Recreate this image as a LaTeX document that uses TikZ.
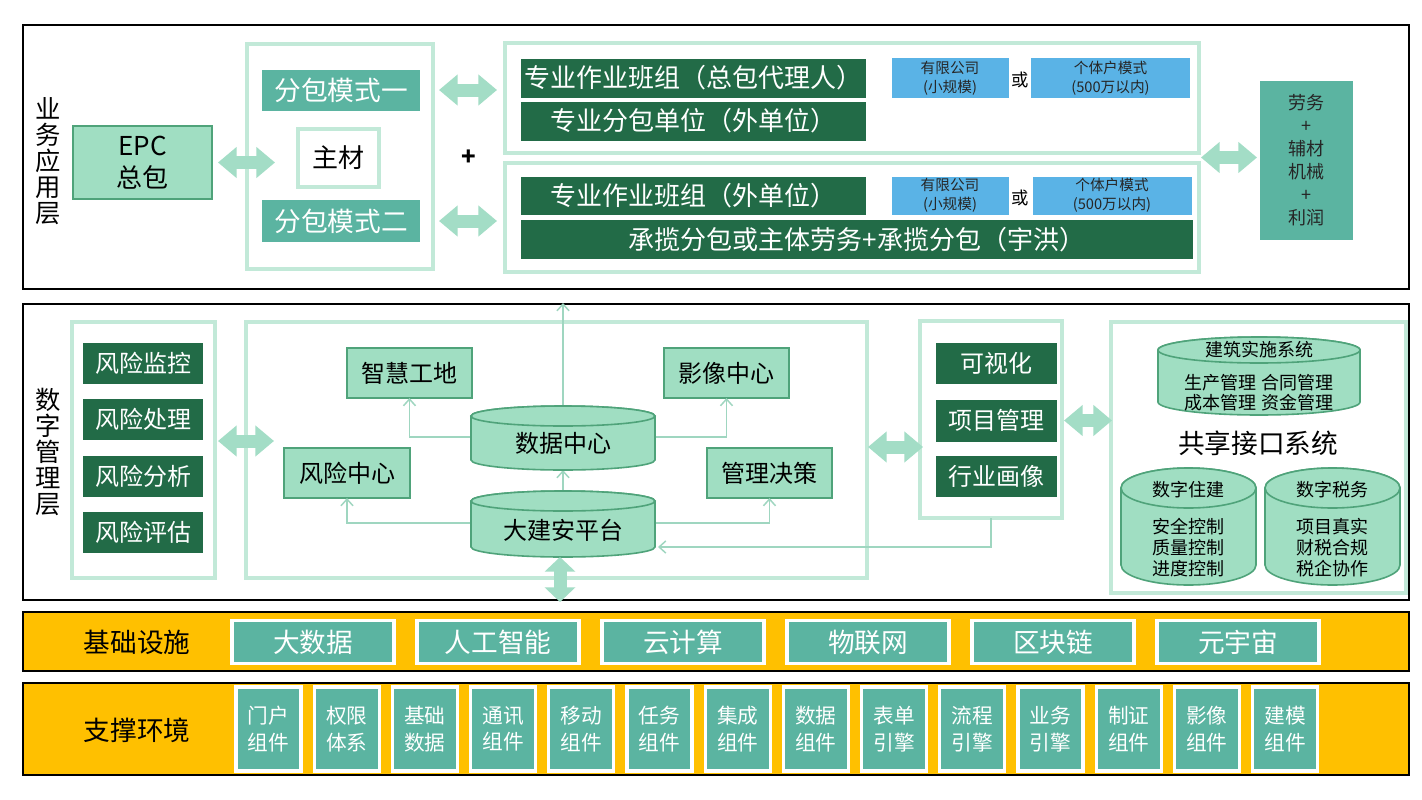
\documentclass[tikz,border=0pt]{standalone}
\usepackage{fontspec}
\setmainfont{Noto Sans CJK SC}
\usetikzlibrary{arrows.meta,calc}
\definecolor{goldc}{HTML}{FFC000}
\definecolor{tealc}{HTML}{5BB4A1}
\definecolor{darkg}{HTML}{226B47}
\definecolor{lightg}{HTML}{A0DEC2}
\definecolor{lightb}{HTML}{4FA37A}
\definecolor{mintline}{HTML}{C2E9D8}
\definecolor{arrowc}{HTML}{A3DDC6}
\definecolor{linec}{HTML}{9FD6C0}
\definecolor{bluec}{HTML}{5AB3E6}
\newcommand\fz[2]{\fontsize{#1pt}{#2pt}\selectfont}
\newcommand\cylshape[5]{%
  \pgfmathsetmacro\cylrx{0.75*(#3-#1)/2}%
  \pgfmathsetmacro\cylry{0.75*#5}%
  \pgfmathsetmacro\cylcx{(#1+#3)/2}%
  \filldraw[cylst] (#1,-#2-#5) -- (#1,-#4+#5) arc[start angle=180,end angle=360,x radius=\cylrx pt,y radius=\cylry pt] -- (#3,-#2-#5) arc[start angle=0,end angle=180,x radius=\cylrx pt,y radius=\cylry pt] -- cycle;
  \draw[cylst] (\cylcx,-#2-#5) ellipse[x radius=\cylrx pt,y radius=\cylry pt];
}
\begin{document}
\begin{tikzpicture}[x=0.75pt,y=0.75pt,
  bw/.style={minimum width=#1*0.75pt},
  bh/.style={minimum height=#1*0.75pt},
  base/.style={inner sep=0pt,outer sep=0pt,align=center},
  layer/.style={base,draw=black,line width=1.5pt},
  mint/.style={base,draw=mintline,line width=3pt},
  dark/.style={base,fill=darkg,text=white,font=\fz{19.5}{22}},
  riskbox/.style={base,fill=darkg,text=white,font=\fz{18}{20}},
  teal/.style={base,fill=tealc,text=white,font=\fz{20}{22}},
  light/.style={base,fill=lightg,draw=lightb,line width=1.2pt,font=\fz{18}{20}},
  bluebox/.style={base,fill=bluec,text=black!85,font=\fz{11}{14}},
  cylst/.style={fill=lightg,draw=lightb,line width=1.2pt},
  bigarrow/.style={draw=arrowc,line width=9.75pt,{Triangle[length=14pt,width=22.5pt]}-{Triangle[length=14pt,width=22.5pt]}},
  shortarrow/.style={draw=arrowc,line width=9.75pt,{Triangle[length=11pt,width=22.5pt]}-{Triangle[length=11pt,width=22.5pt]}},
  thin/.style={draw=linec,line width=1.1pt,-{Straight Barb[length=5pt,width=9pt]}},
  infra/.style={base,fill=tealc,draw=white,line width=2.5pt,text=white,font=\fz{20}{22}},
  comp/.style={base,fill=tealc,draw=white,line width=2.5pt,text=white,font=\fz{15.5}{20}},
  lab/.style={base,font=\fz{19}{19.5}},
  bandlab/.style={base,font=\fz{20}{22}}
]
\useasboundingbox (0,0) rectangle (1422,-800);
\fill[white] (0,0) rectangle (1422,-800);

% ===== Layer 1 =====
\node[layer,bw=1386,bh=264] (L1) at (716,-157) {};
\node[lab] (lab1) at (48,-161) {业\\务\\应\\用\\层};
\node[light,bw=139,bh=73,font=\fz{19.5}{24}] (epc) at (142.5,-162.5) {EPC\\总包};
\node[mint,bw=186,bh=225] (c1) at (340,-156.5) {};
\node[teal,bw=158,bh=41] (m1) at (341,-90) {分包模式一};
\node[base,fill=white,draw=mintline,line width=3pt,bw=81,bh=58,font=\fz{19.5}{20}] (zc) at (338.5,-157.5) {主材};
\node[teal,bw=158,bh=42] (m2) at (341,-221) {分包模式二};
\node[base,font=\bfseries\fz{18}{18}] (plus) at (469,-158) {+};
\node[mint,bw=694,bh=110] (ca) at (852,-98) {};
\node[mint,bw=694,bh=109] (cb) at (852,-217.5) {};
\node[dark,bw=345,bh=39] (g1) at (693.5,-78) {专业作业班组（总包代理人）};
\node[dark,bw=345,bh=39] (g2) at (693.5,-121) {专业分包单位（外单位）};
\node[bluebox,bw=117,bh=40] (b1) at (950,-78) {有限公司\\(小规模)};
\node[base,font=\fz{13}{13}] (or1) at (1020,-80) {或};
\node[bluebox,bw=159,bh=40] (b2) at (1110.5,-78) {个体户模式\\(500万以内)};
\node[dark,bw=345,bh=38] (g3) at (693.5,-195.5) {专业作业班组（外单位）};
\node[bluebox,bw=117,bh=38] (b3) at (950,-195.5) {有限公司\\(小规模)};
\node[base,font=\fz{13}{13}] (or2) at (1020,-198) {或};
\node[bluebox,bw=159,bh=38] (b4) at (1112,-195.5) {个体户模式\\(500万以内)};
\node[dark,bw=672,bh=39] (g4) at (857,-239.5) {承揽分包或主体劳务+承揽分包（宇洪）};
\node[base,fill=tealc,text=black!85,bw=93,bh=159,font=\fz{13.5}{17.25}] (rb) at (1306.5,-160.5) {劳务\\+\\辅材\\机械\\+\\利润};

\draw[bigarrow] ($(epc.east)+(6,0)$) -- ($(epc.east -| c1.west)+(28,0)$);
\draw[bigarrow] ($(m1 -| c1.east)+(6,0)$) -- ($(m1 -| ca.west)+(-8,0)$);
\draw[bigarrow] ($(m2 -| c1.east)+(6,0)$) -- ($(m2 -| cb.west)+(-8,0)$);
\draw[bigarrow] ($(rb.west -| ca.east)+(2,3)$) -- ($(rb.west)+(-3,3)$);

% ===== Layer 2 =====
\node[layer,bw=1386,bh=296] (L2) at (716,-452) {};
\node[lab] (lab2) at (48,-452) {数\\字\\管\\理\\层};
\node[mint,bw=143,bh=256] (rc) at (143.5,-450) {};
\node[riskbox,bw=120,bh=41] (r1) at (143,-363.5) {风险监控};
\node[riskbox,bw=120,bh=41] (r2) at (143,-419.5) {风险处理};
\node[riskbox,bw=120,bh=41] (r3) at (143,-476) {风险分析};
\node[riskbox,bw=120,bh=41] (r4) at (143,-532.5) {风险评估};
\node[mint,bw=621,bh=256] (cc) at (556.5,-450) {};
\node[light,bw=125,bh=50] (zh) at (409.5,-373) {智慧工地};
\node[light,bw=125,bh=50] (yx) at (726.5,-373) {影像中心};
\node[light,bw=126,bh=50] (fx) at (347,-473) {风险中心};
\node[light,bw=125,bh=50] (gl) at (769.5,-473) {管理决策};
\node[base,bw=184,bh=54] (dc) at (563,-443) {};
\node[base,bw=184,bh=56] (dbp) at (563,-529) {};
\node[mint,bw=142,bh=197] (vc) at (991,-419.5) {};
\node[riskbox,bw=121,bh=41] (v1) at (996,-363.5) {可视化};
\node[riskbox,bw=121,bh=42] (v2) at (996,-420.5) {项目管理};
\node[riskbox,bw=121,bh=41] (v3) at (996,-476.5) {行业画像};
\node[mint,bw=295,bh=271] (sc) at (1258.5,-457) {};

% thin connectors
\draw[thin] ($(dc.west)+(0,6)$) -| (zh.south);
\draw[thin] ($(dc.east)+(0,6)$) -| (yx.south);
\draw[thin] ($(dbp.west)+(0,6)$) -| (fx.south);
\draw[thin] ($(dbp.east)+(0,6)$) -| (gl.south);
\draw[thin] (dbp.north) -- (dc.south);
\draw[thin] (dc.north) -- ($(dc.north |- L2.north)+(0,1)$);
\draw[thin] (vc.south) |- ($(dbp.east)+(3,-18)$);

% cylinders
\cylshape{471}{406}{655}{470}{10}
\cylshape{471}{491}{655}{557}{10}
\cylshape{1158}{337}{1360}{415}{13}
\cylshape{1121}{468}{1256}{585}{20}
\cylshape{1265}{468}{1400}{585}{20}
\node[base,font=\fz{18}{20}] (dct) at (563,-443) {数据中心};
\node[base,font=\fz{18}{20}] (dbpt) at (563,-530) {大建安平台};
\node[base,bw=202,bh=52] (jz) at (1259,-389) {};
\node[base,font=\fz{13.5}{15}] (jzt) at (1259,-350) {建筑实施系统};
\node[base,font=\fz{13.5}{15}] (jzb) at (1259,-393) {生产管理 合同管理\\成本管理 资金管理};
\node[base,font=\fz{20}{22}] (gx) at (1258,-443) {共享接口系统};
\node[base,bw=135,bh=77] (sz) at (1188.5,-546) {};
\node[base,font=\fz{13.5}{15}] (szt) at (1188.5,-490) {数字住建};
\node[base,font=\fz{13.5}{15.75}] (szb) at (1188.5,-548) {安全控制\\质量控制\\进度控制};
\node[base,bw=135,bh=77] (sw) at (1332.5,-546) {};
\node[base,font=\fz{13.5}{15}] (swt) at (1332.5,-490) {数字税务};
\node[base,font=\fz{13.5}{15.75}] (swb) at (1332.5,-548) {项目真实\\财税合规\\税企协作};

% big arrows layer 2
\draw[bigarrow] ($(rc.east)+(3,9)$) -- ($(rc.east -| cc.west)+(28,9)$);
\draw[bigarrow] ($(cc.east)+(1,3)$) -- ($(cc.east -| vc.west)+(3,3)$);
\draw[bigarrow] ($(v2.west -| vc.east)+(2,0)$) -- ($(v2.west -| sc.west)+(1,0)$);
\draw[shortarrow] ($(dbp.south)+(-3,0)$) -- ($(dbp.south |- L2.south)+(-3,-2)$);

% ===== Layer 3 =====
\node[base,fill=goldc,draw=black,line width=1.2pt,bw=1386,bh=59] (L3) at (716,-641.5) {};
\node[bandlab] (lab3) at (137,-642) {基础设施};
\node[infra,bw=162,bh=43] (i1) at (313,-642) {大数据};
\node[infra,bw=162,bh=43] (i2) at (498,-642) {人工智能};
\node[infra,bw=162,bh=43] (i3) at (683,-642) {云计算};
\node[infra,bw=162,bh=43] (i4) at (868,-642) {物联网};
\node[infra,bw=162,bh=43] (i5) at (1053,-642) {区块链};
\node[infra,bw=162,bh=43] (i6) at (1238,-642) {元宇宙};

% ===== Layer 4 =====
\node[base,fill=goldc,draw=black,line width=1.2pt,bw=1386,bh=92] (L4) at (716,-729) {};
\node[bandlab] (lab4) at (137,-730) {支撑环境};
\foreach \i/\t in {0/{门户\\组件},1/{权限\\体系},2/{基础\\数据},3/{通讯\\组件},4/{移动\\组件},5/{任务\\组件},6/{集成\\组件},7/{数据\\组件},8/{表单\\引擎},9/{流程\\引擎},10/{业务\\引擎},11/{制证\\组件},12/{影像\\组件},13/{建模\\组件}}{
  \node[comp,bw=65,bh=84] (s\i) at (268.5+78.2*\i,-729) {\t};
}
\end{tikzpicture}
\end{document}
